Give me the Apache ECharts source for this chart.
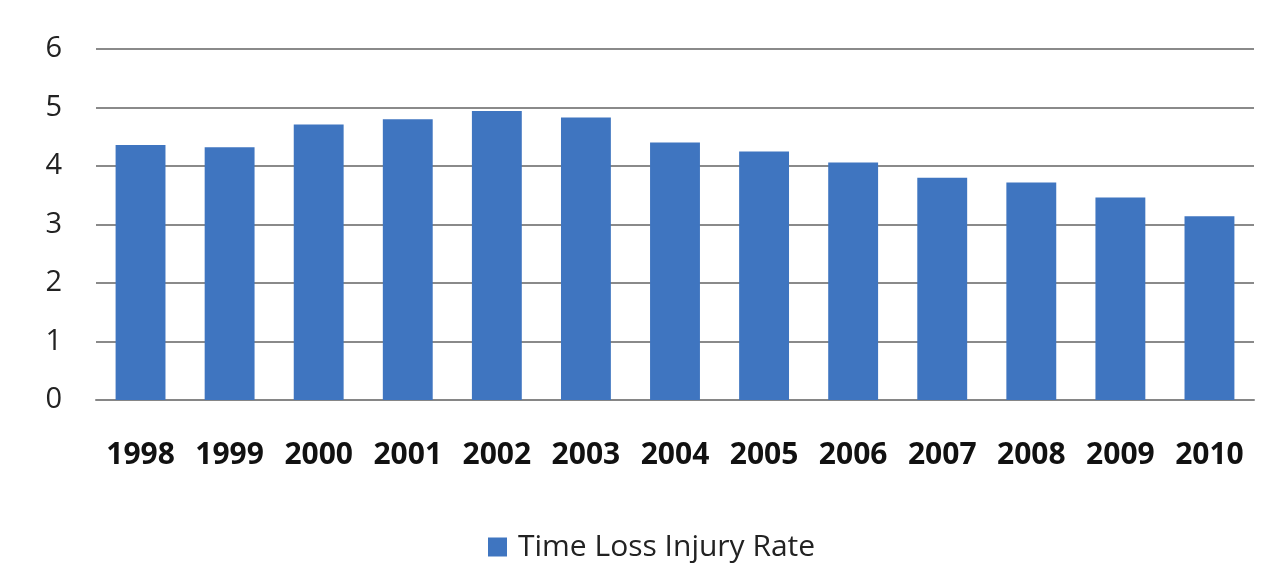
<!DOCTYPE html>
<html><head><meta charset="utf-8">
<script src="https://cdn.jsdelivr.net/npm/echarts@6/dist/echarts.min.js"></script>
<style>html,body{margin:0;padding:0;background:#fff}#c{width:1280px;height:575px}</style>
</head><body><div id="c"></div>
<script>
const years = ['1998','1999','2000','2001','2002','2003','2004','2005','2006','2007','2008','2009','2010'];
const rates = [4.36, 4.32, 4.71, 4.80, 4.94, 4.83, 4.40, 4.25, 4.06, 3.80, 3.72, 3.46, 3.14];
const seriesName = 'Time Loss Injury Rate';
const chart = echarts.init(document.getElementById('c'), null, {renderer:'canvas'});
chart.setOption({
  backgroundColor:'#ffffff',
  animation:false,
  grid:{left:96, right:26, top:49, bottom:175, containLabel:false},
  legend:{
    data:[seriesName], bottom:8, left:483,
    icon:'rect', itemWidth:19, itemHeight:19,
    textStyle:{fontFamily:'Open Sans', fontSize:30, color:'#222', padding:[0,0,0,6]}
  },
  xAxis:{
    type:'category', data:years,
    axisLine:{show:true, lineStyle:{color:'#868686', width:2}},
    axisTick:{show:false},
    axisLabel:{interval:0, fontFamily:'Open Sans', fontWeight:'bold', fontSize:30, color:'#111', margin:40}
  },
  yAxis:{
    type:'value', min:0, max:6, interval:1,
    axisLine:{show:false}, axisTick:{show:false},
    splitLine:{lineStyle:{color:'#8a8a8a', width:2}},
    axisLabel:{fontFamily:'Open Sans', fontSize:29, color:'#222', margin:34}
  },
  series:[{
    name:seriesName, type:'bar', data:rates,
    barCategoryGap:'44%',
    itemStyle:{color:'#3f75c0'}
  }]
});
</script></body></html>
